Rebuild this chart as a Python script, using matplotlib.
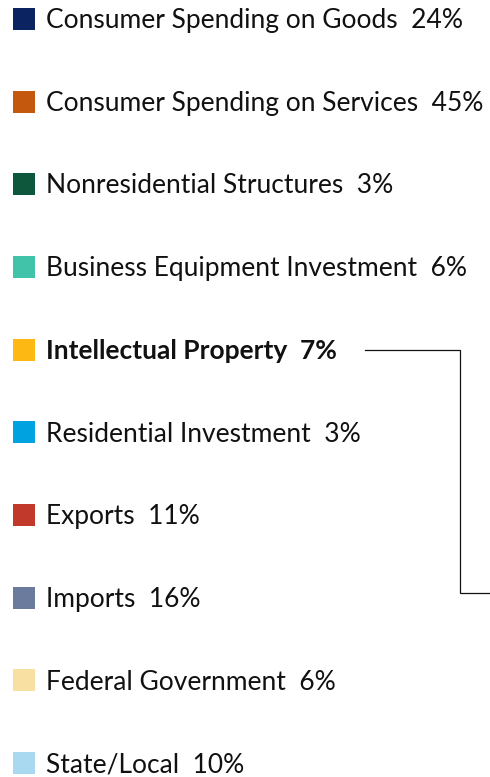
import matplotlib
matplotlib.use("Agg")
import matplotlib.pyplot as plt

categories = ["Consumer Spending on Goods", "Consumer Spending on Services",
              "Nonresidential Structures", "Business Equipment Investment",
              "Intellectual Property", "Residential Investment", "Exports",
              "Imports", "Federal Government", "State/Local"]
shares = [24, 45, 3, 6, 7, 3, 11, 16, 6, 10]
colors = ["#0b2461", "#c4580c", "#0f573c", "#41c3aa", "#fdb813",
          "#00a3e0", "#c1392b", "#6b7b9d", "#f8e0a3", "#a9d9f0"]
highlight = "Intellectual Property"

W, H, DPI = 490, 777, 100
fig = plt.figure(figsize=(W / DPI, H / DPI), dpi=DPI)
ax = fig.add_axes([0, 0, 1, 1])
step = 82.67
top = 19
ax.set_xlim(0, W)
ax.set_ylim((H - top) / step, -top / step)
ax.axis("off")

ys = list(range(len(categories)))
ax.scatter([24] * len(ys), ys, marker="s", s=(22 * 72 / DPI) ** 2,
           c=colors, linewidths=0)
for i, (cat, v) in enumerate(zip(categories, shares)):
    bold = cat == highlight
    ax.text(46, i + 0.02, f"{cat}  {v}%", va="center", ha="left",
            fontsize=19, family="Lato",
            fontweight="bold" if bold else "normal", color="#111111")

hi = categories.index(highlight)
yend = (593 - top) / step
ax.plot([365, 460, 460, 490], [hi, hi, yend, yend], color="#111111",
        lw=0.9, solid_joinstyle="miter")

fig.savefig("out.png", dpi=DPI)
